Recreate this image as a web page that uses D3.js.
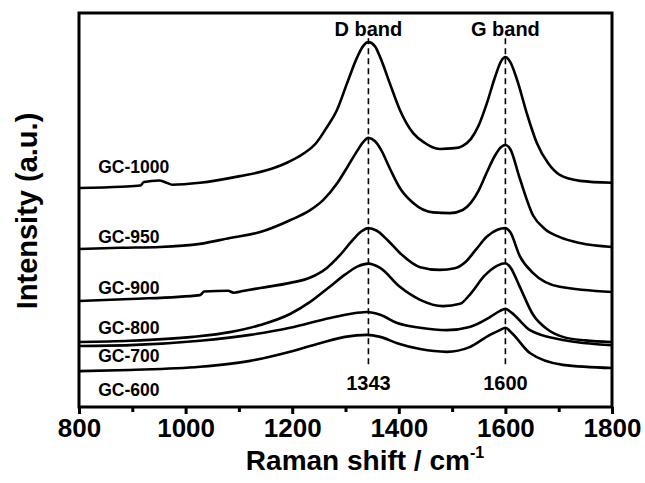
<!DOCTYPE html>
<html>
<head>
<meta charset="utf-8">
<script src="https://cdn.jsdelivr.net/npm/d3@7"></script>
<style>
  html, body { margin: 0; padding: 0; background: #fff; }
  svg { display: block; }
  text { font-family: "Liberation Sans", Arial, Helvetica, sans-serif; font-weight: bold; fill: #000; }
</style>
</head>
<body>
<script>
// ---------- data (Raman shift in cm^-1, intensity in arbitrary units) ----------
const seriesNames = ["GC-1000", "GC-950", "GC-900", "GC-800", "GC-700", "GC-600"];
const labelIntensity = [60.9, 43.1, 30.2, 20.1, 12.9, 4.3];
const labelShift = 836;

const gc1000 = [[800,55.6],[880,55.9],[915,56.2],[922,57.1],[950,57.5],[963,57.0],[975,56.4],[1027,56.9],[1102,58.6],[1150,60.0],[1190,62.0],[1220,64.2],[1245,67.0],[1265,71.0],[1284,75.4],[1303,82.2],[1322,88.8],[1333,91.6],[1343,92.6],[1355,91.6],[1365,88.8],[1383,82.2],[1402,75.4],[1427,69.5],[1449,67.0],[1462,66.0],[1477,65.5],[1505,65.7],[1520,66.3],[1535,68.0],[1550,71.5],[1565,77.0],[1580,83.5],[1592,87.8],[1600,88.8],[1609,87.6],[1622,83.0],[1640,74.6],[1659,67.0],[1680,61.9],[1702,58.9],[1740,57.4],[1800,56.9]];
const gc950 = [[800,40.1],[877,40.4],[952,40.6],[1027,41.4],[1083,42.9],[1140,44.4],[1196,47.4],[1233,49.9],[1258,52.5],[1284,56.7],[1303,60.8],[1322,65.0],[1333,67.2],[1343,68.3],[1355,67.5],[1367,65.2],[1383,60.6],[1402,55.6],[1427,51.8],[1464,49.4],[1496,49.2],[1520,50.0],[1535,51.8],[1550,55.0],[1565,59.5],[1580,63.7],[1592,66.0],[1600,66.5],[1609,65.5],[1627,58.0],[1652,48.6],[1674,45.2],[1702,43.1],[1740,41.6],[1800,40.6]];
const gc900 = [[800,26.9],[896,27.4],[1027,28.4],[1035,29.3],[1080,29.5],[1090,29.0],[1110,29.5],[1140,30.2],[1196,31.5],[1233,32.8],[1265,35.3],[1290,38.6],[1315,42.6],[1330,44.6],[1343,45.4],[1358,44.8],[1380,42.2],[1402,39.1],[1440,35.5],[1477,34.8],[1505,35.2],[1525,36.8],[1545,40.0],[1565,43.2],[1585,45.0],[1600,45.4],[1609,44.4],[1627,38.3],[1652,34.0],[1702,30.5],[1800,29.2]];
const gc800 = [[800,16.5],[896,16.8],[1014,17.8],[1083,19.0],[1140,20.8],[1196,23.6],[1233,26.6],[1271,30.6],[1299,33.6],[1323,35.7],[1343,36.4],[1365,35.3],[1402,30.5],[1440,27.2],[1483,25.6],[1515,26.2],[1535,28.8],[1560,33.2],[1585,35.9],[1600,36.5],[1609,35.5],[1627,30.5],[1652,23.4],[1680,19.6],[1708,17.8],[1750,16.9],[1800,16.5]];
const gc700 = [[800,15.5],[896,15.7],[1027,16.8],[1121,18.3],[1196,20.1],[1271,22.6],[1308,23.6],[1340,24.1],[1365,23.4],[1397,21.3],[1440,20.1],[1490,19.5],[1533,20.3],[1571,22.8],[1590,24.4],[1600,24.9],[1612,23.9],[1646,19.5],[1708,17.0],[1800,15.7]];
const gc600 = [[800,9.1],[896,9.4],[1027,10.2],[1121,11.7],[1196,14.0],[1252,16.2],[1299,17.8],[1340,18.3],[1365,17.8],[1397,16.2],[1440,14.7],[1490,14.0],[1533,15.2],[1571,18.3],[1590,19.5],[1600,20.1],[1612,18.8],[1646,13.7],[1708,10.7],[1800,9.9]];
const seriesData = [gc1000, gc950, gc900, gc800, gc700, gc600];

const bandNames = ["D band", "G band"];
const bandPositions = [1343, 1600];
const bandTickLabels = ["1343", "1600"];
const xTickValues = [800, 1000, 1200, 1400, 1600, 1800];
const xMinorTicks = [900, 1100, 1300, 1500, 1700];

// ---------- layout ----------
const W = 645, H = 483;
const m = {left: 79, right: 33, top: 13, bottom: 76};
const svg = d3.select("body").append("svg").attr("width", W).attr("height", H);

const x = d3.scaleLinear().domain([800, 1800]).range([m.left, W - m.right]);
const y = d3.scaleLinear().domain([0, 100]).range([H - m.bottom, m.top]);

// dashed band lines
const dashTop = 93.6, dashBottom = 10.4;
svg.append("g").selectAll("line").data(bandPositions).join("line")
  .attr("x1", d => x(d)).attr("x2", d => x(d))
  .attr("y1", y(dashTop)).attr("y2", y(dashBottom))
  .attr("stroke", "#000").attr("stroke-width", 1.6).attr("stroke-dasharray", "6,4");

// curves
const line = d3.line().x(d => x(d[0])).y(d => y(d[1])).curve(d3.curveMonotoneX);
svg.append("g").selectAll("path").data(seriesData).join("path")
  .attr("d", line).attr("fill", "none").attr("stroke", "#000")
  .attr("stroke-width", 2.6).attr("stroke-linejoin", "round");

// series labels
svg.append("g").selectAll("text").data(seriesNames).join("text")
  .attr("x", x(labelShift)).attr("y", (d, i) => y(labelIntensity[i]))
  .attr("dy", "0.35em").attr("font-size", 17.5).text(d => d);

// band labels
svg.append("g").selectAll("text").data(bandNames).join("text")
  .attr("x", (d, i) => x(bandPositions[i])).attr("y", y(95.9))
  .attr("dy", "0.35em").attr("text-anchor", "middle").attr("font-size", 20).text(d => d);
svg.append("g").selectAll("text").data(bandTickLabels).join("text")
  .attr("x", (d, i) => x(bandPositions[i])).attr("y", y(6.1))
  .attr("dy", "0.35em").attr("text-anchor", "middle").attr("font-size", 20).text(d => d);

// frame
svg.append("rect").attr("x", m.left).attr("y", m.top)
  .attr("width", W - m.left - m.right).attr("height", H - m.top - m.bottom)
  .attr("fill", "none").attr("stroke", "#000").attr("stroke-width", 3);

// x axis
const xAxis = svg.append("g").attr("transform", `translate(0,${H - m.bottom})`)
  .call(d3.axisBottom(x).tickValues(xTickValues).tickSize(7).tickPadding(5).tickFormat(d3.format("d")));
xAxis.select(".domain").remove();
xAxis.selectAll(".tick line").attr("stroke-width", 3);
xAxis.selectAll(".tick text").attr("font-size", 26).attr("font-family", null);
const xMinor = svg.append("g").attr("transform", `translate(0,${H - m.bottom})`)
  .call(d3.axisBottom(x).tickValues(xMinorTicks).tickSize(5).tickFormat(""));
xMinor.select(".domain").remove();
xMinor.selectAll(".tick line").attr("stroke-width", 3);

// axis titles
const xt = svg.append("text").attr("x", 365).attr("y", 470)
  .attr("text-anchor", "middle").attr("font-size", 28);
xt.append("tspan").text("Raman shift / cm");
xt.append("tspan").attr("font-size", 16).attr("dy", -12).text("-1");

svg.append("text").attr("transform", `translate(37,211) rotate(-90)`)
  .attr("text-anchor", "middle").attr("font-size", 29).text("Intensity (a.u.)");
</script>
</body>
</html>
